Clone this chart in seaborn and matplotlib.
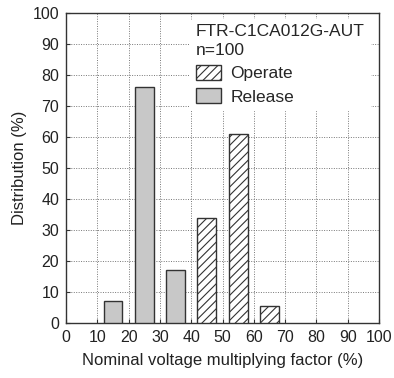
import matplotlib
matplotlib.use("Agg")
import matplotlib.pyplot as plt
import seaborn as sns
import pandas as pd
from matplotlib.patches import Patch

release_x = [15, 25, 35]
release_y = [7, 76, 17]
operate_x = [45, 55, 65]
operate_y = [34, 61, 5.5]
xticks = [0, 10, 20, 30, 40, 50, 60, 70, 80, 90, 100]
yticks = [0, 10, 20, 30, 40, 50, 60, 70, 80, 90, 100]

sns.set_theme(style="white")
plt.rcParams['font.family'] = ['Liberation Sans', 'DejaVu Sans']
plt.rcParams['hatch.linewidth'] = 0.8
plt.rcParams['hatch.color'] = '#222222'

df = pd.DataFrame({
    'factor': release_x + operate_x,
    'dist': release_y + operate_y,
    'kind': ['Release'] * len(release_x) + ['Operate'] * len(operate_x),
})

fig = plt.figure(figsize=(3.94, 3.78), dpi=100)
ax = fig.add_axes([0.1675, 0.1455, 0.7945, 0.8201])

sns.barplot(data=df, x='factor', y='dist', hue='kind', native_scale=True,
            dodge=False, width=0.6, palette={'Release': '#c8c8c8', 'Operate': 'white'},
            edgecolor='#333333', linewidth=1.0, legend=False, ax=ax, zorder=3)

for p in ax.patches:
    if p.get_facecolor()[0] > 0.95:
        p.set_hatch('////')

ax.set_xlim(0, 100)
ax.set_ylim(0, 100)
ax.set_xticks(xticks)
ax.set_yticks(yticks)
ax.set_xticklabels([str(v) for v in xticks], fontsize=11.5, color='#222222')
ax.set_yticklabels([str(v) for v in yticks], fontsize=11.5, color='#222222')
ax.tick_params(direction='in', length=3, width=0.8, color='#333333', pad=5,
               bottom=True, left=True)
ax.grid(True, linestyle=(0, (1, 1.5)), color='#777777', linewidth=0.7, zorder=0)
ax.set_axisbelow(True)
for s in ax.spines.values():
    s.set_color('#333333')
    s.set_linewidth(1.0)

ax.set_xlabel('Nominal voltage multiplying factor (%)', fontsize=12, color='#222222', labelpad=6)
ax.set_ylabel('Distribution (%)', fontsize=12, color='#222222', labelpad=4)

handles = [Patch(facecolor='white', edgecolor='#333333', hatch='////', label='Operate'),
           Patch(facecolor='#c8c8c8', edgecolor='#333333', label='Release')]
leg = ax.legend(handles=handles, title='FTR-C1CA012G-AUT\nn=100', loc='upper left',
                bbox_to_anchor=(0.37, 1.01), frameon=True, fontsize=12.5,
                title_fontsize=12.5, handlelength=1.45, handleheight=0.95,
                borderpad=0.3, labelspacing=0.4, handletextpad=0.55, alignment='left')
leg.get_title().set_linespacing(1.35)
leg.get_frame().set_edgecolor('white')
leg.get_frame().set_facecolor('white')
leg.get_frame().set_alpha(1)
leg.set_zorder(5)

fig.savefig('out.png', dpi=100)
